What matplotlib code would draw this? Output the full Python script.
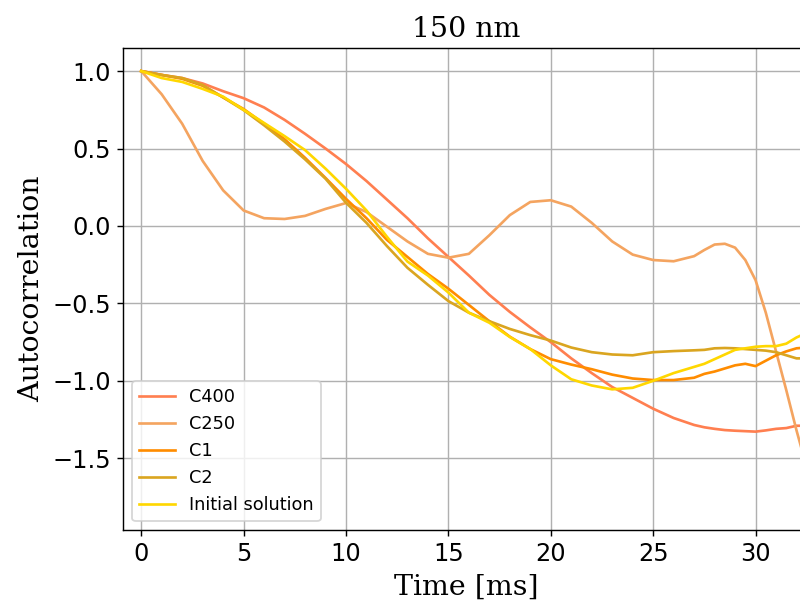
import matplotlib
matplotlib.use("Agg")
import matplotlib.pyplot as plt

time_ms = [0, 1, 2, 3, 4, 5, 6, 7, 8, 9, 10, 11, 12, 13, 14, 15, 16, 17, 18, 19,
           20, 21, 22, 23, 24, 25, 26, 27, 27.5, 28, 28.5, 29, 29.5, 30, 30.5,
           31, 31.5, 32, 32.5, 33]

c400 = [1.00, 0.975, 0.955, 0.92, 0.87, 0.825, 0.765, 0.685, 0.595, 0.50, 0.40,
        0.29, 0.17, 0.05, -0.08, -0.20, -0.32, -0.445, -0.555, -0.655, -0.75,
        -0.855, -0.95, -1.04, -1.11, -1.18, -1.24, -1.285, -1.30, -1.31, -1.318,
        -1.322, -1.325, -1.328, -1.32, -1.31, -1.305, -1.29, -1.29, -1.29]

c250 = [1.00, 0.85, 0.66, 0.42, 0.23, 0.10, 0.05, 0.045, 0.065, 0.11, 0.148,
        0.09, -0.005, -0.10, -0.18, -0.205, -0.18, -0.06, 0.07, 0.155, 0.166,
        0.125, 0.02, -0.10, -0.185, -0.22, -0.228, -0.195, -0.155, -0.12, -0.115,
        -0.14, -0.22, -0.35, -0.56, -0.81, -1.06, -1.32, -1.56, -1.80]

c1 = [1.00, 0.975, 0.95, 0.905, 0.83, 0.755, 0.66, 0.56, 0.44, 0.31, 0.175,
      0.05, -0.09, -0.20, -0.31, -0.405, -0.51, -0.615, -0.715, -0.795, -0.86,
      -0.895, -0.925, -0.96, -0.985, -0.995, -0.995, -0.98, -0.955, -0.94, -0.92,
      -0.90, -0.89, -0.905, -0.87, -0.835, -0.81, -0.79, -0.785, -0.78]

c2 = [1.00, 0.975, 0.955, 0.91, 0.83, 0.748, 0.65, 0.545, 0.43, 0.305, 0.15,
      0.02, -0.13, -0.27, -0.38, -0.485, -0.56, -0.615, -0.665, -0.705, -0.74,
      -0.785, -0.815, -0.83, -0.835, -0.815, -0.808, -0.803, -0.80, -0.79, -0.788,
      -0.79, -0.795, -0.80, -0.805, -0.815, -0.835, -0.855, -0.855, -0.85]

initial = [1.00, 0.955, 0.93, 0.885, 0.835, 0.75, 0.665, 0.58, 0.49, 0.37, 0.24,
           0.10, -0.07, -0.23, -0.32, -0.43, -0.56, -0.625, -0.717, -0.795, -0.90,
           -0.99, -1.03, -1.055, -1.045, -1.00, -0.95, -0.91, -0.89, -0.86, -0.83,
           -0.80, -0.79, -0.78, -0.776, -0.776, -0.76, -0.72, -0.69, -0.67]

series = [("C400", c400, "#FF7F50"),
          ("C250", c250, "#F4A460"),
          ("C1", c1, "#FF8C00"),
          ("C2", c2, "#DAA520"),
          ("Initial solution", initial, "#FFD700")]

fig = plt.figure(figsize=(6.25, 4.6875), dpi=128)
ax = fig.add_axes([0.154, 0.1167, 0.857, 0.8033])

for label, vals, color in series:
    ax.plot(time_ms, vals, color=color, label=label, linewidth=1.5)

ax.set_xlim(-0.88, 32.6)
ax.set_ylim(-1.963, 1.149)
ax.set_xticks([0, 5, 10, 15, 20, 25, 30])
ax.set_yticks([-1.5, -1.0, -0.5, 0.0, 0.5, 1.0])
ax.tick_params(labelsize=13.5)
ax.grid(True)
ax.set_title("150 nm", family="DejaVu Serif", fontsize=16)
ax.set_xlabel("Time [ms]", family="DejaVu Serif", fontsize=16)
ax.set_ylabel("Autocorrelation", family="DejaVu Serif", fontsize=16)
ax.legend(loc="lower left", fontsize=10)

fig.savefig("out.png", dpi=128)
